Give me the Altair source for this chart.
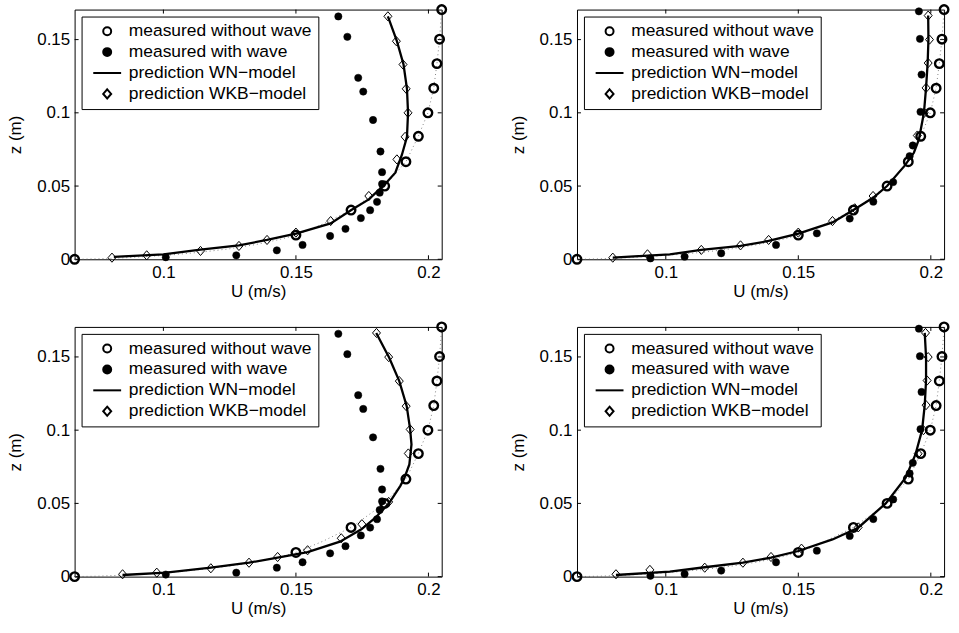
import altair as alt
import pandas as pd

FONT = "Liberation Sans"

SERIES = ["measured without wave", "measured with wave",
          "prediction WN\u2212model", "prediction WKB\u2212model"]

# axis ticks
X_TICKS = [0.1, 0.15, 0.2]
Z_TICKS = [0, 0.05, 0.1, 0.15]
U_RANGE = [0.0665, 0.205]
Z_RANGE = [0.0, 0.1705]

# measured without wave (same in all panels)
U_NOWAVE = [0.0665, 0.150, 0.1708, 0.1835, 0.1915, 0.1962, 0.1998, 0.2020, 0.2032, 0.2042, 0.2050]
Z_NOWAVE = [0.0, 0.0165, 0.0336, 0.0500, 0.0666, 0.0840, 0.1000, 0.1168, 0.1336, 0.1503, 0.1705]

# dotted fit through the no-wave profile
U_FIT = [0.0665, 0.075, 0.085, 0.095, 0.105, 0.115, 0.125, 0.135, 0.145, 0.150, 0.160,
         0.1708, 0.1835, 0.1915, 0.1962, 0.1998, 0.2020, 0.2032, 0.2042, 0.2050]
Z_FIT = [0.0, 0.0003, 0.0010, 0.0020, 0.0033, 0.0050, 0.0072, 0.0101, 0.0140, 0.0165, 0.0240,
         0.0336, 0.0500, 0.0666, 0.0840, 0.1000, 0.1168, 0.1336, 0.1503, 0.1705]

# measured with wave, left column
U_WAVE_L = [0.1009, 0.1275, 0.1428, 0.1525, 0.1629, 0.1687, 0.1745, 0.1780, 0.1806, 0.1816,
            0.1825, 0.1825, 0.1819, 0.1791, 0.1754, 0.1735, 0.1694, 0.1660]
Z_WAVE_L = [0.0014, 0.0027, 0.0061, 0.0098, 0.0159, 0.0208, 0.0281, 0.0335, 0.0392, 0.0455,
            0.0514, 0.0595, 0.0736, 0.0951, 0.1145, 0.1239, 0.1519, 0.1658]

# measured with wave, right column
U_WAVE_R = [0.0942, 0.1071, 0.1209, 0.1416, 0.1570, 0.1694, 0.1783, 0.1858, 0.1920, 0.1932,
            0.1961, 0.1965, 0.1959, 0.1955]
Z_WAVE_R = [0.0006, 0.0018, 0.0041, 0.0098, 0.0177, 0.0278, 0.0393, 0.0527, 0.0704, 0.0777,
            0.1007, 0.1261, 0.1505, 0.1693]

# WN-model predictions
U_WN_1 = [0.0813, 0.1000, 0.1140, 0.1285, 0.1391, 0.1500, 0.1631, 0.1709, 0.1775, 0.1835,
          0.1875, 0.1900, 0.1919, 0.1923, 0.1919, 0.1906, 0.1881, 0.1847]
Z_WN_1 = [0.0016, 0.0034, 0.0066, 0.0095, 0.0132, 0.0175, 0.0245, 0.0336, 0.0409, 0.0511,
          0.0591, 0.0714, 0.0836, 0.1000, 0.1164, 0.1330, 0.1489, 0.1659]
U_WN_2 = [0.0800, 0.1015, 0.1134, 0.1282, 0.1388, 0.1500, 0.1629, 0.1708, 0.1782, 0.1835,
          0.1900, 0.1936, 0.1955, 0.1974, 0.1982, 0.1988, 0.1991, 0.1990]
Z_WN_2 = [0.0011, 0.0034, 0.0064, 0.0091, 0.0125, 0.0175, 0.0252, 0.0336, 0.0420, 0.0500,
          0.0636, 0.0727, 0.0818, 0.1000, 0.1170, 0.1340, 0.1500, 0.1664]
U_WN_3 = [0.0846, 0.1009, 0.1179, 0.1323, 0.1431, 0.1544, 0.1666, 0.1747, 0.1800, 0.1853,
          0.1894, 0.1908, 0.1928, 0.1936, 0.1931, 0.1918, 0.1890, 0.1852, 0.1803]
Z_WN_3 = [0.0011, 0.0027, 0.0061, 0.0095, 0.0130, 0.0168, 0.0239, 0.0323, 0.0402, 0.0505,
          0.0620, 0.0668, 0.0766, 0.0903, 0.1005, 0.1164, 0.1335, 0.1494, 0.1664]
U_WN_4 = [0.0812, 0.1015, 0.1147, 0.1291, 0.1397, 0.1500, 0.1629, 0.1726, 0.1830, 0.1905,
          0.1942, 0.1967, 0.1977, 0.1982, 0.1982, 0.1977]
Z_WN_4 = [0.0011, 0.0034, 0.0064, 0.0095, 0.0130, 0.0175, 0.0254, 0.0334, 0.0500, 0.0675,
          0.0834, 0.1000, 0.1171, 0.1339, 0.1499, 0.1664]

# WKB-model predictions
U_WKB_1 = [0.0806, 0.0937, 0.1140, 0.1285, 0.1391, 0.1500, 0.1631, 0.1775, 0.1881, 0.1912,
           0.1923, 0.1916, 0.1904, 0.1879, 0.1847]
Z_WKB_1 = [0.0011, 0.0027, 0.0057, 0.0091, 0.0132, 0.0182, 0.0261, 0.0432, 0.0682, 0.0836,
           0.1000, 0.1164, 0.1330, 0.1489, 0.1659]
U_WKB_2 = [0.0800, 0.0931, 0.1134, 0.1282, 0.1388, 0.1500, 0.1629, 0.1713, 0.1782, 0.1949,
           0.1975, 0.1982, 0.1990, 0.1995, 0.1990]
Z_WKB_2 = [0.0011, 0.0034, 0.0064, 0.0095, 0.0132, 0.0182, 0.0261, 0.0348, 0.0432, 0.0845,
           0.1000, 0.1170, 0.1340, 0.1500, 0.1664]
U_WKB_3 = [0.0846, 0.0975, 0.1179, 0.1323, 0.1431, 0.1544, 0.1671, 0.1749, 0.1850, 0.1924,
           0.1931, 0.1916, 0.1890, 0.1850, 0.1804]
Z_WKB_3 = [0.0016, 0.0027, 0.0057, 0.0095, 0.0134, 0.0180, 0.0262, 0.0358, 0.0510, 0.0841,
           0.1005, 0.1164, 0.1335, 0.1499, 0.1664]
U_WKB_4 = [0.0812, 0.0940, 0.1147, 0.1291, 0.1397, 0.1512, 0.1726, 0.1952, 0.1972, 0.1982,
           0.1986, 0.1990, 0.1980]
Z_WKB_4 = [0.0016, 0.0046, 0.0061, 0.0095, 0.0134, 0.0191, 0.0336, 0.0839, 0.1000, 0.1171,
           0.1339, 0.1499, 0.1664]

W, H = 369, 251
FS = 17

SHAPES = ["circle", "circle", "M-3.5,0L3.5,0", "M0,-1.15L1,0L0,1.15L-1,0Z"]
FILLS = ["transparent", "black", "black", "transparent"]
STROKES = ["black", "black", "black", "black"]


def legend():
    return alt.Legend(
        title=None, orient="none", legendX=7, legendY=7, direction="vertical",
        strokeColor="black", fillColor="white", padding=6,
        labelFont=FONT, labelFontSize=17.5, labelColor="black", labelLimit=400,
        symbolSize=64, symbolStrokeColor="black", symbolStrokeWidth=2,
        symbolOffset=11, labelOffset=13, rowPadding=2, symbolOpacity=1,
    )


def xenc():
    return alt.X("u:Q", scale=alt.Scale(domain=U_RANGE, nice=False, zero=False),
                 axis=alt.Axis(values=X_TICKS, format="~g", title="U (m/s)",
                               labelPadding=5, titlePadding=3, labelFlush=False,
                               labelOverlap=False))


def yenc():
    return alt.Y("z:Q", scale=alt.Scale(domain=Z_RANGE, nice=False, zero=False),
                 axis=alt.Axis(values=Z_TICKS, format="~g", title="z (m)",
                               labelPadding=5, titlePadding=12, labelFlush=False,
                               labelOverlap=False))


def line_df(u, z):
    return pd.DataFrame({"u": u, "z": z, "i": list(range(len(u)))})


def pts_df(u, z, name):
    return pd.DataFrame({"u": u, "z": z, "series": [name] * len(u)})


def panel(wn_u, wn_z, wkb_u, wkb_z, wav_u, wav_z):
    shape = alt.Shape("series:N", scale=alt.Scale(domain=SERIES, range=SHAPES), legend=legend())
    fill = alt.Fill("series:N", scale=alt.Scale(domain=SERIES, range=FILLS), legend=legend())
    stroke = alt.Stroke("series:N", scale=alt.Scale(domain=SERIES, range=STROKES), legend=legend())

    fit = alt.Chart(line_df(U_FIT, Z_FIT)).mark_line(
        color="#666666", strokeWidth=0.8, strokeDash=[1, 3]
    ).encode(x=xenc(), y=yenc(), order="i:Q")
    wn = alt.Chart(line_df(wn_u, wn_z)).mark_line(
        color="black", strokeWidth=2.3
    ).encode(x=xenc(), y=yenc(), order="i:Q")
    wkb = alt.Chart(pts_df(wkb_u, wkb_z, SERIES[3])).mark_point(
        filled=False, size=64, strokeWidth=1, opacity=1
    ).encode(x=xenc(), y=yenc(), shape=shape, fill=fill, stroke=stroke)
    wav = alt.Chart(pts_df(wav_u, wav_z, SERIES[1])).mark_point(
        filled=False, size=54, strokeWidth=0.5, opacity=1
    ).encode(x=xenc(), y=yenc(), shape=shape, fill=fill, stroke=stroke)
    nowave = alt.Chart(pts_df(U_NOWAVE, Z_NOWAVE, SERIES[0])).mark_point(
        filled=False, size=74, strokeWidth=2.4, opacity=1
    ).encode(x=xenc(), y=yenc(), shape=shape, fill=fill, stroke=stroke)

    xt = pd.DataFrame({"u": X_TICKS})
    zt = pd.DataFrame({"z": Z_TICKS})
    tick_top = alt.Chart(xt).mark_rule(color="black", strokeWidth=1).encode(
        x=xenc(), y=alt.value(0), y2=alt.value(4))
    tick_bot = alt.Chart(xt).mark_rule(color="black", strokeWidth=1).encode(
        x=xenc(), y=alt.value(H), y2=alt.value(H - 4))
    tick_left = alt.Chart(zt).mark_rule(color="black", strokeWidth=1).encode(
        y=yenc(), x=alt.value(0), x2=alt.value(4))
    tick_right = alt.Chart(zt).mark_rule(color="black", strokeWidth=1).encode(
        y=yenc(), x=alt.value(W), x2=alt.value(W - 4))

    return alt.layer(tick_top, tick_bot, tick_left, tick_right, fit, wn, wkb, wav, nowave).properties(
        width=W, height=H)


p1 = panel(U_WN_1, Z_WN_1, U_WKB_1, Z_WKB_1, U_WAVE_L, Z_WAVE_L)
p2 = panel(U_WN_2, Z_WN_2, U_WKB_2, Z_WKB_2, U_WAVE_R, Z_WAVE_R)
p3 = panel(U_WN_3, Z_WN_3, U_WKB_3, Z_WKB_3, U_WAVE_L, Z_WAVE_L)
p4 = panel(U_WN_4, Z_WN_4, U_WKB_4, Z_WKB_4, U_WAVE_R, Z_WAVE_R)

chart = alt.concat(p1, p2, p3, p4, columns=2,
                   spacing={"row": 68, "column": 136}, bounds="flush")
chart = chart.resolve_scale(
    x="independent", y="independent", shape="independent",
    fill="independent", stroke="independent"
).resolve_legend(shape="independent", fill="independent", stroke="independent")

chart = chart.configure(
    padding={"left": 6, "top": -2, "right": 5, "bottom": 5},
    background="white",
    font=FONT,
).configure_view(
    stroke="black", strokeWidth=1
).configure_axis(
    labelFont=FONT, titleFont=FONT, labelFontSize=FS, titleFontSize=FS,
    labelColor="black", titleColor="black", titleFontWeight="normal",
    grid=False, domain=False, ticks=False, tickSize=0
)

chart.save("out.html", embed_options={"renderer": "svg", "actions": False})
